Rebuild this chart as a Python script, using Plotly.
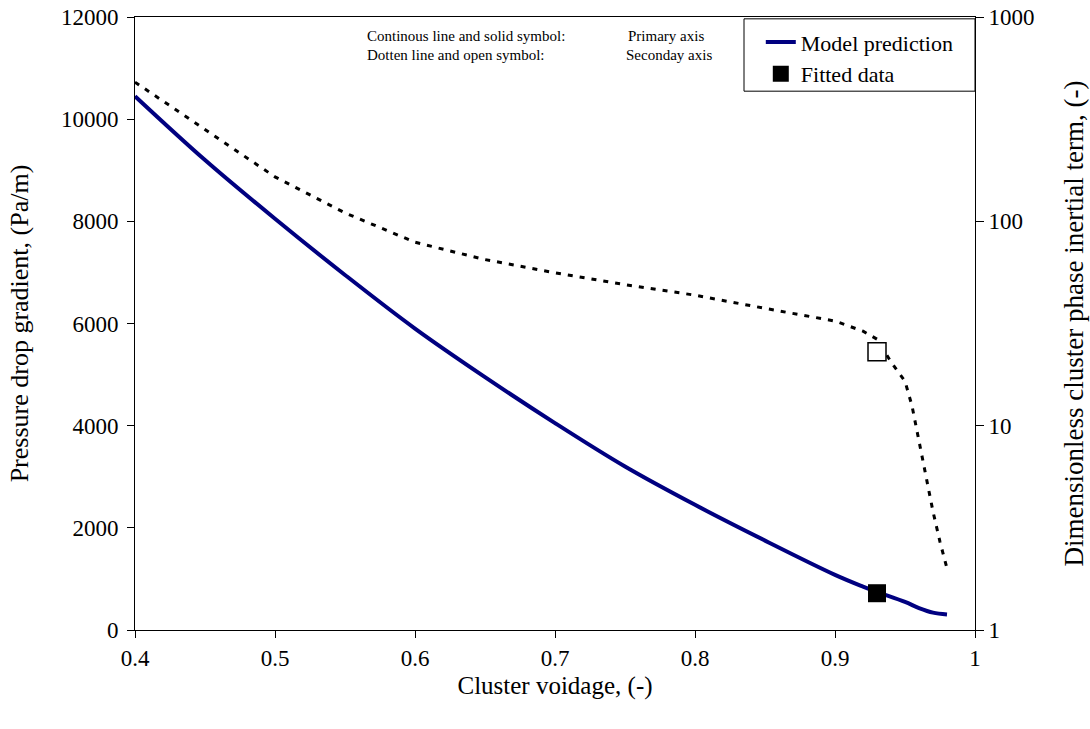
import plotly.graph_objects as go

# Model prediction of the pressure drop gradient (primary axis)
voidage_model = [0.40, 0.45, 0.50, 0.55, 0.60, 0.65, 0.70, 0.75, 0.80, 0.85, 0.90, 0.92, 0.93, 0.95, 0.96, 0.97, 0.98]
dp_model = [10450, 9200, 8050, 6950, 5900, 4950, 4050, 3200, 2450, 1750, 1080, 850, 745, 550, 430, 340, 305]

# Dimensionless cluster phase inertial term (secondary, log axis)
voidage_inert = [0.40, 0.45, 0.50, 0.55, 0.60, 0.65, 0.70, 0.75, 0.80, 0.85, 0.90, 0.92, 0.93, 0.94, 0.95, 0.955, 0.96, 0.965, 0.97, 0.975, 0.98]
inertial_term = [480, 280, 165, 110, 79, 65, 56, 49, 43.5, 37.5, 32.5, 29, 26.5, 20.5, 16.5, 12.5, 8.5, 5.6, 3.8, 2.7, 2.0]

# Fitted data points
fit_voidage = [0.93]
fit_dp = [720]
fit_inertial = [23]

# Axis tick labels
x_ticks = [0.4, 0.5, 0.6, 0.7, 0.8, 0.9, 1.0]
x_ticklabels = ["0.4", "0.5", "0.6", "0.7", "0.8", "0.9", "1"]
y_ticks = [0, 2000, 4000, 6000, 8000, 10000, 12000]
y_ticklabels = ["0", "2000", "4000", "6000", "8000", "10000", "12000"]
y2_ticks = [1, 10, 100, 1000]
y2_ticklabels = ["1", "10", "100", "1000"]

serif = "Liberation Serif"

fig = go.Figure()

fig.add_trace(go.Scatter(
    x=voidage_inert, y=inertial_term, mode="lines", yaxis="y2",
    line=dict(color="black", width=3, dash="5px,7px"),
    showlegend=False,
))
fig.add_trace(go.Scatter(
    x=fit_voidage, y=fit_inertial, mode="markers", yaxis="y2",
    marker=dict(symbol="square", size=18, color="white", line=dict(width=1.5, color="black")),
    showlegend=False,
))
fig.add_trace(go.Scatter(
    x=voidage_model, y=dp_model, mode="lines", name="Model prediction",
    line=dict(color="#000080", width=4, shape="spline"),
))
fig.add_trace(go.Scatter(
    x=fit_voidage, y=fit_dp, mode="markers", name="Fitted data",
    marker=dict(symbol="square", size=18, color="black"),
))

fig.update_layout(
    width=1090, height=729,
    margin=dict(l=135, r=115, t=17, b=99),
    paper_bgcolor="white", plot_bgcolor="white",
    font=dict(family=serif, color="black", size=22),
    xaxis=dict(
        range=[0.4, 1.0], tickvals=x_ticks, ticktext=x_ticklabels, automargin=False,
        showgrid=False, zeroline=False, showline=True, linecolor="black", linewidth=1,
        mirror=True, ticks="outside", ticklen=7, tickcolor="black",
        title=dict(text="Cluster voidage, (-)", font=dict(size=25, family=serif), standoff=6),
        tickfont=dict(size=23, family=serif),
    ),
    yaxis=dict(
        range=[0, 12000], tickvals=y_ticks, ticktext=y_ticklabels, automargin=False,
        showgrid=False, zeroline=False, showline=True, linecolor="black", linewidth=1,
        ticks="outside", ticklen=7, tickcolor="black", ticklabelstandoff=4,
        title=dict(text="Pressure drop gradient, (Pa/m)", font=dict(size=26, family=serif), standoff=24),
        tickfont=dict(size=23, family=serif),
    ),
    yaxis2=dict(
        type="log", range=[0, 3], overlaying="y", side="right", automargin=False,
        tickvals=y2_ticks, ticktext=y2_ticklabels,
        showgrid=False, zeroline=False, showline=True, linecolor="black", linewidth=1,
        ticks="outside", ticklen=8, tickcolor="black",
        title=dict(text="Dimensionless cluster phase inertial term, (-)", font=dict(size=27, family=serif), standoff=30),
        tickfont=dict(size=23, family=serif),
    ),
    yaxis3=dict(
        type="log", range=[0, 3], overlaying="y", side="right", automargin=False,
        tickvals=y2_ticks, showticklabels=False,
        showgrid=False, zeroline=False, showline=False,
        ticks="inside", ticklen=8, tickcolor="black",
    ),
    legend=dict(
        x=0.745, y=0.993, xanchor="left", yanchor="top",
        bgcolor="rgba(0,0,0,0)", borderwidth=0,
        font=dict(size=22, family=serif), tracegroupgap=2,
    ),
)

# Legend frame spanning to the right axis
fig.add_shape(
    type="rect", xref="paper", yref="paper",
    x0=0.725, x1=1.0, y0=0.879, y1=0.997,
    line=dict(color="black", width=1), fillcolor="white", layer="below",
)

notes = [
    ("Continous line and solid symbol:", 0.274, 0.969),
    ("Primary axis", 0.585, 0.969),
    ("Dotten line and open symbol:", 0.274, 0.938),
    ("Seconday axis", 0.582, 0.938),
]
for text, xp, yp in notes:
    fig.add_annotation(
        text=text, xref="paper", yref="paper", x=xp, y=yp,
        xanchor="left", yanchor="middle", showarrow=False,
        font=dict(size=15, family=serif, color="black"),
    )

fig.write_html("out.html")
